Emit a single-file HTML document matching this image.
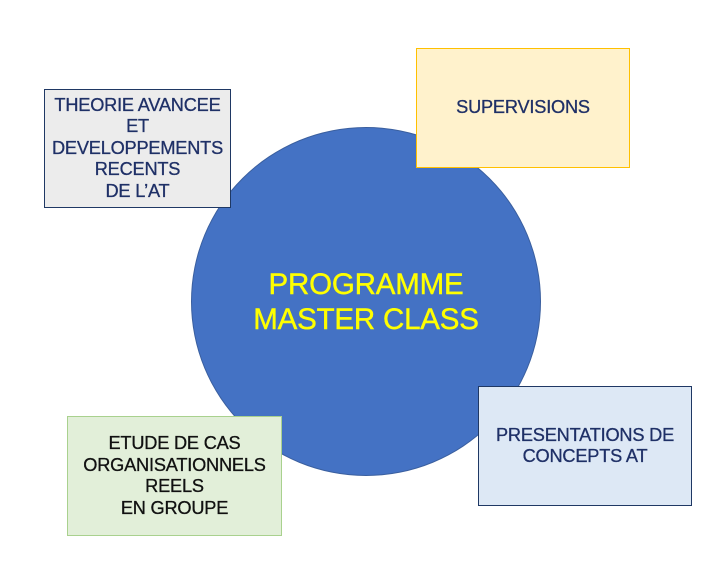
<!DOCTYPE html>
<html><head><style>
body{margin:0;width:720px;height:581px;background:#fff;position:relative;overflow:hidden;font-family:"Liberation Sans",sans-serif}
.b{position:absolute;box-sizing:border-box;display:flex;align-items:center;justify-content:center;text-align:center;color:#1f3067;font-size:18.2px;line-height:21.5px;letter-spacing:-0.2px;-webkit-text-stroke:0.3px}
</style></head><body>
<div style="position:absolute;left:191px;top:127px;width:350px;height:349px;border-radius:50%;background:#4472c4;border:1px solid #3a5f9f;box-sizing:border-box"></div>
<div class="b" style="left:191px;top:127px;width:350px;height:349px;color:#ffff00;font-size:29.5px;line-height:35px;-webkit-text-stroke:0.4px">PROGRAMME<br>MASTER CLASS</div>
<div class="b" style="left:44px;top:89px;width:187px;height:119px;background:#ececec;border:1px solid #1f3864">THEORIE AVANCEE<br>ET<br>DEVELOPPEMENTS<br>RECENTS<br>DE L’AT</div>
<div class="b" style="left:416px;top:48px;width:214px;height:120px;background:#fff2cc;border:1px solid #ffc000">SUPERVISIONS</div>
<div class="b" style="left:478px;top:386px;width:214px;height:120px;background:#dde8f5;border:1px solid #1f3864">PRESENTATIONS DE<br>CONCEPTS AT</div>
<div class="b" style="left:67px;top:416px;width:215px;height:120px;background:#e2efd9;border:1px solid #a9d18e;color:#111">ETUDE DE CAS<br>ORGANISATIONNELS<br>REELS<br>EN GROUPE</div>
</body></html>
